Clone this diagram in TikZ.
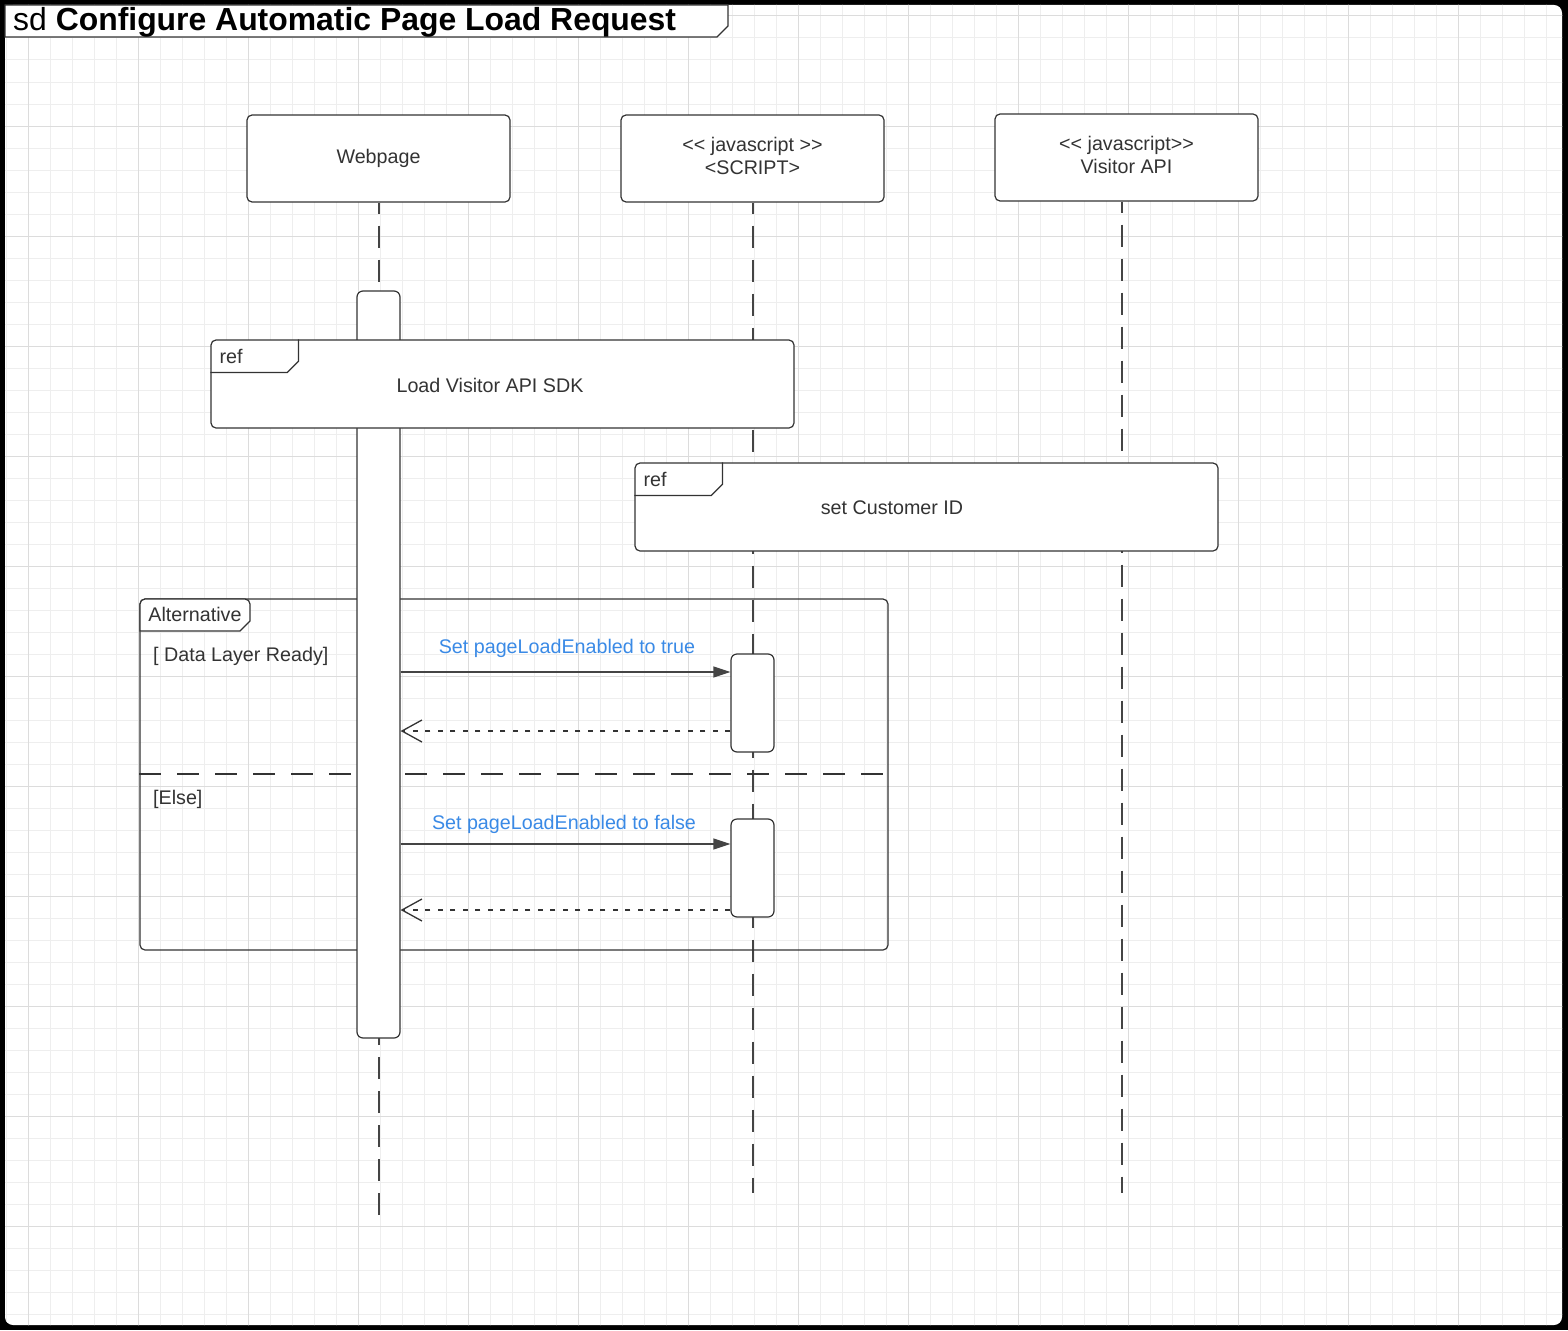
\documentclass[tikz,border=0pt]{standalone}
\usepackage{fontspec}
\setmainfont{Liberation Sans}
\usetikzlibrary{arrows.meta,calc}
\definecolor{ink}{HTML}{333333}
\definecolor{lineink}{HTML}{444444}
\definecolor{gridminor}{HTML}{EEEEEE}
\definecolor{gridmajor}{HTML}{DCDCDC}
\definecolor{msgblue}{HTML}{3A8AE6}

\begin{document}
\begin{tikzpicture}[x=1pt,y=-1pt,
  every node/.style={font=\fontsize{19.7}{23.5}\selectfont, text=ink},
  part/.style={draw=ink, line width=1.2pt, fill=white, rounded corners=5pt,
    minimum width=263pt, minimum height=87pt, inner sep=0pt, align=center},
  lifeline/.style={draw=lineink, line width=1.3pt, dash pattern=on 22pt off 12pt, dash phase=11pt},
  actbar/.style={draw=ink, line width=1.2pt, fill=white, rounded corners=6pt,
    minimum width=43pt, inner sep=0pt},
  refbox/.style={draw=ink, line width=1.2pt, fill=white, rounded corners=5pt,
    minimum width=583pt, minimum height=88pt, inner sep=0pt},
  tagline/.style={draw=ink, line width=1.2pt},
  call/.style={draw=lineink, line width=1.3pt, -{Triangle[length=17pt,width=11pt]}},
  reply/.style={draw=ink, line width=1.7pt, dash pattern=on 5pt off 7.5pt,
    -{Straight Barb[length=20pt,width=22pt,line width=1.3pt]}},
  msglabel/.style={text=msgblue, inner sep=0pt},
  guard/.style={anchor=west, inner sep=0pt}
]
\useasboundingbox (0,0) rectangle (1568,1330);

% canvas: black rim and white sheet with a light grid
\fill[black] (0,0) rectangle (1568,1330);
\fill[white, rounded corners=8pt] (5,5) rectangle (1562,1325);
\begin{scope}
  \clip[rounded corners=8pt] (5,5) rectangle (1562,1325);
  \foreach \gx in {6,28,...,1566} \draw[gridminor, line width=1pt] (\gx,0) -- (\gx,1330);
  \foreach \gy in {16,38,...,1330} \draw[gridminor, line width=1pt] (0,\gy) -- (1568,\gy);
  \foreach \gx in {28,138,...,1566} \draw[gridmajor, line width=1pt] (\gx,0) -- (\gx,1330);
  \foreach \gy in {16,126,...,1330} \draw[gridmajor, line width=1pt] (0,\gy) -- (1568,\gy);
\end{scope}

% diagram frame heading
\filldraw[fill=white, draw=ink, line width=1.2pt]
  (5,37) -- (5,5) -- (728,5) -- (728,26) -- (717,37) -- cycle;
\node[anchor=west, inner sep=0pt, text=black, font=\fontsize{31.9}{36}\selectfont]
  (title) at (13,22.5) {sd \textbf{Configure Automatic Page Load Request}};

% participants
\node[part] (web) at (378.5,158.5) {\raisebox{-1.5pt}{Webpage}};
\node[part] (scr) at (752.5,158.5) {\raisebox{2.5pt}{\begin{tabular}{@{}c@{}}<{}< javascript >{}>\\<SCRIPT>\end{tabular}}};
\node[part] (vis) at (1126.5,157.5) {\raisebox{2.5pt}{\begin{tabular}{@{}c@{}}<{}< javascript>{}>\\Visitor API\end{tabular}}};

% Webpage activation (placed first so the lifeline can end at it)
\coordinate (webend) at (379,1215);
\coordinate (scrend) at (753,1193);
\coordinate (visend) at (1122,1193);
\path node[minimum width=43pt, minimum height=747pt, inner sep=0pt] (wactspot) at (378.5,664.5) {};

% lifelines
\draw[lifeline] (web.south -| webend) -- (wactspot.north -| webend);
\draw[lifeline, dash phase=0pt] (webend) -- (wactspot.south -| webend);
\draw[lifeline] (scr.south -| scrend) -- (scrend);
\draw[lifeline] (vis.south -| visend) -- (visend);

% alternative fragment
\node[draw=ink, line width=1.2pt, rounded corners=5pt, minimum width=748pt,
  minimum height=351pt, inner sep=0pt] (alt) at (514,774.5) {};
\filldraw[fill=white, draw=ink, line width=1.2pt]
  (140,631) [rounded corners=5pt] -- (140,599) -- (250,599) [sharp corners]
  -- (250,621) -- (240,631) -- cycle;
\node[inner sep=0pt] (alttag) at (195,614) {Alternative};
\node[guard] (g1) at (153,656) {[ Data Layer Ready]};
\node[guard] (g2) at (153,799) {[Else]};
\coordinate (sep) at (0,774);
\draw[draw=ink, line width=1.2pt, dash pattern=on 22pt off 16pt]
  (alt.west |- sep) -- (alt.east |- sep);

% Webpage activation bar
\node[actbar, minimum height=747pt] (wact) at (wactspot) {};

% interaction references
\node[refbox] (ref1) at (502.5,384) {};
\draw[tagline] ($(ref1.north west)+(88,0)$) -- ++(0,22) -- ++(-11,11) -- ++(-77,0);
\node[inner sep=0pt] (ref1tag) at (231,356) {ref};
\node[inner sep=0pt] (ref1txt) at (490,385) {Load Visitor API SDK};

\node[refbox] (ref2) at (926.5,507) {};
\draw[tagline] ($(ref2.north west)+(88,0)$) -- ++(0,22) -- ++(-11,11) -- ++(-77,0);
\node[inner sep=0pt] (ref2tag) at (655,479) {ref};
\node[inner sep=0pt] (ref2txt) at (892,508) {set Customer ID};

% SCRIPT activations
\node[actbar, minimum height=98pt] (sact1) at (752.5,703) {};
\node[actbar, minimum height=98pt] (sact2) at (752.5,868) {};

% messages
\coordinate (m1) at (0,672);
\coordinate (r1) at (0,731);
\coordinate (m2) at (0,844);
\coordinate (r2) at (0,910);
\draw[call] (wact.east |- m1) -- (sact1.west |- m1);
\node[msglabel] (m1lbl) at (567,648) {Set pageLoadEnabled to true};
\draw[reply] (sact1.west |- r1) -- (wact.east |- r1);
\draw[call] (wact.east |- m2) -- (sact2.west |- m2);
\node[msglabel] (m2lbl) at (564,824) {Set pageLoadEnabled to false};
\draw[reply] (sact2.west |- r2) -- (wact.east |- r2);
\end{tikzpicture}
\end{document}
